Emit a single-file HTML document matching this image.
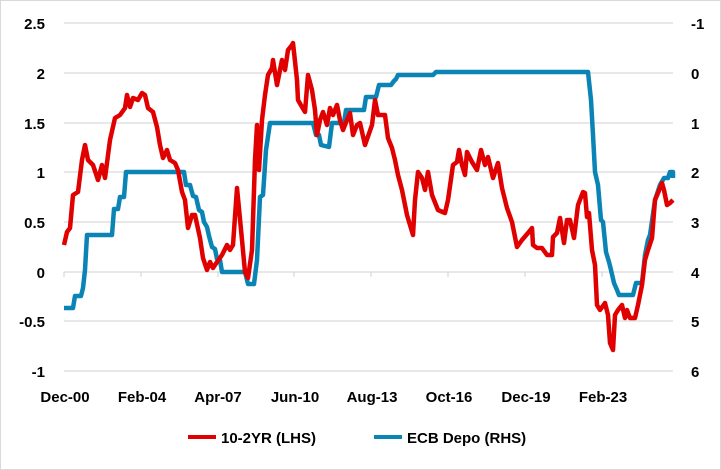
<!DOCTYPE html>
<html><head><meta charset="utf-8"><style>
body{margin:0;background:#fff}
svg{display:block;font-family:"Liberation Sans",sans-serif;font-weight:bold;font-size:15px;fill:#000}
</style></head><body>
<svg width="721" height="470" viewBox="0 0 721 470">
<rect x="0.5" y="0.5" width="720" height="469" fill="#fff" stroke="#d9d9d9"/>
<g stroke="#d0d0d0" stroke-width="1">
<line x1="64" y1="23" x2="673" y2="23"/><line x1="64" y1="73" x2="673" y2="73"/>
<line x1="64" y1="123" x2="673" y2="123"/><line x1="64" y1="172" x2="673" y2="172"/>
<line x1="64" y1="222" x2="673" y2="222"/><line x1="64" y1="272" x2="673" y2="272"/>
<line x1="64" y1="321" x2="673" y2="321"/><line x1="64" y1="371" x2="673" y2="371"/>
<line x1="64" y1="272" x2="64" y2="277"/><line x1="141" y1="272" x2="141" y2="277"/>
<line x1="218" y1="272" x2="218" y2="277"/><line x1="294" y1="272" x2="294" y2="277"/>
<line x1="371" y1="272" x2="371" y2="277"/><line x1="448" y1="272" x2="448" y2="277"/>
<line x1="525" y1="272" x2="525" y2="277"/><line x1="602" y1="272" x2="602" y2="277"/>
</g>
<g text-anchor="end">
<text x="45" y="29">2.5</text><text x="45" y="79">2</text><text x="45" y="129">1.5</text>
<text x="45" y="178">1</text><text x="45" y="228">0.5</text><text x="45" y="278">0</text>
<text x="45" y="327">-0.5</text><text x="45" y="377">-1</text>
</g>
<g text-anchor="start">
<text x="691" y="29">-1</text>
<text x="691" y="79">0</text><text x="691" y="129">1</text><text x="691" y="178">2</text>
<text x="691" y="228">3</text><text x="691" y="278">4</text><text x="691" y="327">5</text><text x="691" y="377">6</text>
</g>
<g text-anchor="middle">
<text x="65" y="402">Dec-00</text><text x="142" y="402">Feb-04</text><text x="218" y="402">Apr-07</text>
<text x="295" y="402">Jun-10</text><text x="372" y="402">Aug-13</text><text x="449" y="402">Oct-16</text>
<text x="526" y="402">Dec-19</text><text x="603" y="402">Feb-23</text>
</g>
<polyline fill="none" stroke="#0a84b4" stroke-width="4.5" stroke-linejoin="round" points="64,308 73,308 75,296 81,296 83,288 85,270 87,235 112,235 114,209 118,209 120,197 124,197 126,172 184,172 186,185 190,185 193,196 196,197 199,210 202,212 204,222 207,227 209,236 212,247 215,249 217,259 220,260 222,272 245,272 248,284 254,284 257,260 260,197 263,195 266,150 270,123 313,123 316,135 319,135 321,145 329,147 332,123 344,123 346,110 364,110 366,97 376,97 379,85 391,85 394,81 396,79 398,75 433,75 436,72 588,72 591,100 593,135 595,172 598,185 601,220 603,222 606,252 609,262 611,270 614,283 617,290 619,295 633,295 636,283 642,283 645,255 648,240 650,235 655,200 660,185 664,178 668,178 670,172 673,172 673,178"/>
<polyline fill="none" stroke="#e00000" stroke-width="4.5" stroke-linejoin="round" points="64,245 67,232 70,228 73,195 78,192 82,160 85,145 88,160 93,165 98,180 102,165 105,178 110,140 115,118 120,115 125,108 127,95 130,107 133,98 138,100 142,93 145,95 148,108 153,112 157,127 160,145 163,158 167,150 170,160 175,163 178,170 182,192 185,200 188,228 192,215 195,215 200,238 203,258 207,270 210,262 213,268 217,262 222,255 227,245 230,250 233,245 237,188 242,240 245,272 248,278 252,250 255,160 257,125 259,170 262,120 265,95 268,75 272,68 273,60 277,85 282,60 285,70 288,50 292,45 293,43 297,80 298,100 302,107 305,112 308,75 312,90 315,110 317,135 320,120 323,112 327,125 330,108 333,115 337,105 340,120 343,130 347,120 350,113 353,135 357,125 360,123 365,145 372,125 375,100 378,115 385,115 388,138 392,148 395,160 398,175 402,190 407,215 413,235 415,200 418,172 422,178 425,190 428,172 432,195 438,210 445,213 448,200 453,165 457,162 459,150 462,165 465,175 467,152 472,162 477,170 481,150 485,165 488,157 493,178 498,163 502,188 507,208 512,222 517,247 522,240 528,233 532,228 533,245 537,248 542,248 547,255 552,255 553,237 557,233 560,218 564,243 567,220 570,220 574,238 578,205 583,192 585,193 587,217 589,213 592,250 595,265 597,305 600,310 605,303 608,315 610,343 613,350 615,315 618,310 622,305 625,318 627,310 630,318 635,318 638,305 642,285 645,260 648,250 652,238 655,200 658,193 662,183 664,190 667,205 670,203 673,200"/>
<line x1="188" y1="437" x2="216" y2="437" stroke="#e00000" stroke-width="4"/>
<text x="221" y="443">10-2YR (LHS)</text>
<line x1="374" y1="437" x2="402" y2="437" stroke="#0a84b4" stroke-width="4"/>
<text x="407" y="443">ECB Depo (RHS)</text>
</svg>
</body></html>
